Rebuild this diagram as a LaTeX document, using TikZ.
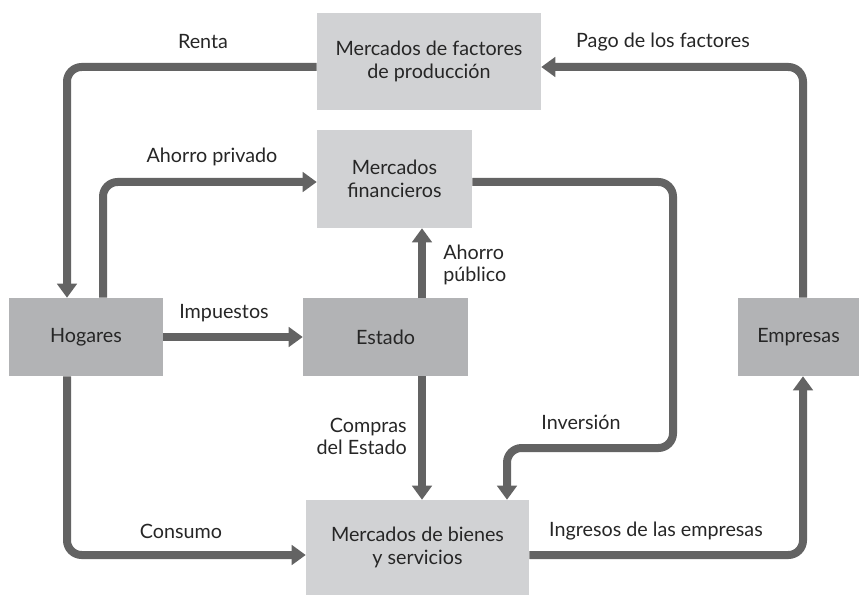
\documentclass[tikz,border=0pt]{standalone}
\usepackage{fontspec}
\setmainfont{Lato}
\usetikzlibrary{arrows.meta}
\definecolor{lightbox}{HTML}{D1D2D4}
\definecolor{darkbox}{HTML}{B2B3B5}
\definecolor{flow}{HTML}{636363}
\definecolor{txt}{HTML}{262626}
\tikzset{
  box/.style={fill=#1, draw=none, inner sep=0pt, align=center, text=txt, font=\fontsize{14.8}{17.5}\selectfont},
  flowline/.style={draw=flow, line width=6pt, rounded corners=11pt, -{Triangle[length=10.5pt,width=14.5pt]}},
  lbl/.style={text=txt, font=\fontsize{14.8}{16.5}\selectfont, inner sep=0pt}
}
\begin{document}
\begin{tikzpicture}[x=0.75pt,y=-0.75pt]
\useasboundingbox (0,0) rectangle (859,595);
% boxes
\node[box=lightbox, minimum width=224*0.75pt, minimum height=97*0.75pt] (fac) at (429,61.5) {Mercados de factores\\de producción};
\node[box=lightbox, minimum width=155*0.75pt, minimum height=98*0.75pt] (fin) at (394.5,179) {Mercados\\financieros};
\node[box=darkbox, minimum width=154*0.75pt, minimum height=78*0.75pt] (hog) at (86,337) {Hogares};
\node[box=darkbox, minimum width=165*0.75pt, minimum height=78*0.75pt] (est) at (385.5,337) {Estado};
\node[box=darkbox, minimum width=121*0.75pt, minimum height=78*0.75pt] (emp) at (798.5,337) {Empresas};
\node[box=lightbox, minimum width=223*0.75pt, minimum height=95*0.75pt] (bie) at (417.5,547.5) {Mercados de bienes\\y servicios};
% coordinates
\coordinate (rentaC) at (67,67);
\coordinate (apC) at (103,182);
\coordinate (pagoC) at (803,67);
\coordinate (invA) at (673,182);
\coordinate (invB) at (673,448);
\coordinate (invC) at (507,448);
\coordinate (conC) at (67,555);
\coordinate (ingC) at (803,555);
% flows
\draw[flowline] (fac.west |- rentaC) -- (rentaC) -- (rentaC |- hog.north);
\draw[flowline] (apC |- hog.north) -- (apC) -- (apC -| fin.west);
\draw[flowline] (pagoC |- emp.north) -- (pagoC) -- (pagoC -| fac.east);
\draw[flowline] (422,298) coordinate (apubS) -- (apubS |- fin.south);
\draw[flowline] (fin.east |- invA) -- (invA) -- (invB) -- (invC) -- (invC |- bie.north);
\draw[flowline] (hog.east |- est.west) -- (est.west);
\draw[flowline] (422,376) coordinate (compS) -- (compS |- bie.north);
\draw[flowline] (conC |- hog.south) -- (conC) -- (conC -| bie.west);
\draw[flowline] (bie.east |- ingC) -- (ingC) -- (ingC |- emp.south);
% labels
\node[lbl] (lrenta) at (203,42) {Renta};
\node[lbl] (lpago) at (663,42) {Pago de los factores};
\node[lbl] (lap) at (212,157) {Ahorro privado};
\node[lbl, anchor=west, align=left] (lapub) at (443,265) {Ahorro\\público};
\node[lbl] (limp) at (224,313) {Impuestos};
\node[lbl, anchor=east, align=right] (lcomp) at (407,436) {Compras\\del Estado};
\node[lbl] (linv) at (581,422) {Inversión};
\node[lbl] (lcon) at (181,531) {Consumo};
\node[lbl] (ling) at (656,531) {Ingresos de las empresas};
\end{tikzpicture}
\end{document}
